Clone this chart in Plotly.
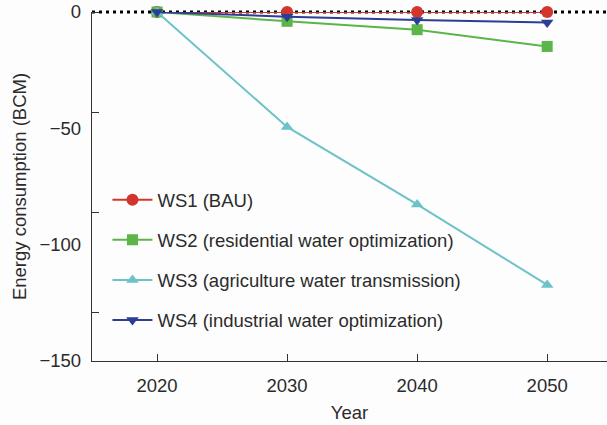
import plotly.graph_objects as go

# Scenario results: change in energy consumption relative to 2020 (BCM)
years = [2020, 2030, 2040, 2050]
ws1_bau = [0, 0, 0, 0]
ws2_residential = [0, -4.0, -7.6, -14.8]
ws3_agriculture = [0, -49.4, -82.7, -117.3]
ws4_industrial = [0, -2.0, -3.4, -4.5]

series = [
    ("WS1 (BAU)", ws1_bau, "#d2352c", "circle", 12),
    ("WS2 (residential water optimization)", ws2_residential, "#5bb548", "square", 11),
    ("WS3 (agriculture water transmission)", ws3_agriculture, "#6cc2c8", "triangle-up", 11),
    ("WS4 (industrial water optimization)", ws4_industrial, "#2c3d96", "triangle-down", 11),
]

FONT = "Liberation Sans, Arial, sans-serif"
TEXT = "#2b2b2b"
AXIS = "#333333"
FS = 18.5

fig = go.Figure()
for i, (name, vals, color, symbol, size) in enumerate(series):
    fig.add_trace(go.Scatter(
        x=years, y=vals, name=name, mode="lines+markers",
        line=dict(color=color, width=2),
        marker=dict(symbol=symbol, size=size, color=color),
        legendgroup=f"g{i}", cliponaxis=False,
    ))

# Dotted zero line along the top edge of the plot (y = 0 is the range top);
# paper refs keep it from being clipped at the edge
fig.add_shape(type="line", xref="paper", yref="paper", x0=0, x1=1, y0=1, y1=1,
              line=dict(color="black", width=3, dash="3px,4px"), layer="below")

fig.update_layout(
    width=607, height=425,
    margin=dict(l=92, r=0, t=12, b=64),
    paper_bgcolor="#fdfdfd", plot_bgcolor="#fdfdfd",
    font=dict(family=FONT, size=FS, color=TEXT),
    showlegend=True,
    legend=dict(
        x=0.03, y=0.515, xanchor="left", yanchor="top",
        bgcolor="rgba(0,0,0,0)", font=dict(size=FS, color=TEXT),
        traceorder="grouped", tracegroupgap=13, itemwidth=40,
    ),
    xaxis=dict(
        range=[2015, 2054.6], tickvals=years, ticks="inside", ticklen=7,
        tickcolor=AXIS, showline=True, linecolor=AXIS, linewidth=1.3,
        showgrid=False, zeroline=False, ticklabelstandoff=8,
        title=dict(text="Year", font=dict(size=FS, color=TEXT), standoff=10),
        tickfont=dict(size=FS, color=TEXT),
    ),
    yaxis=dict(
        range=[-150, 0], tickvals=[0, -50, -100, -150],
        ticktext=["0", "\u221250", "\u2212100", "\u2212150"],
        ticks="", showline=True, linecolor=AXIS, linewidth=1.3,
        showgrid=False, zeroline=False, ticklabelstandoff=6,
        minor=dict(ticks="inside", ticklen=7, tick0=0, dtick=43, tickcolor=AXIS, showgrid=False),
        title=dict(text="Energy consumption (BCM)", font=dict(size=FS, color=TEXT), standoff=8),
        tickfont=dict(size=FS, color=TEXT),
    ),
)

fig.write_html("out.html")
